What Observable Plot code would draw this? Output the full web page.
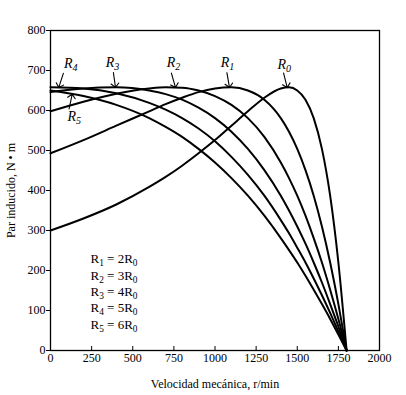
<!DOCTYPE html>
<html><head><meta charset="utf-8">
<script src="https://cdn.jsdelivr.net/npm/d3@7"></script>
<script src="https://cdn.jsdelivr.net/npm/@observablehq/plot@0.6"></script>
<style>body{margin:0;background:#fff;} svg{display:block}</style>
</head><body><div id="chart"></div>
<script>
// Data
const speeds = [0,200,400,600,700,800,900,1000,1100,1200,1300,1400,1450,1500,1550,1600,1650,1700,1750,1800];
const curveNames = ["R₀","R₁","R₂","R₃","R₄","R₅"];
const torqueR0 = [300,330,365,409,434,462,493,526,562,598,632,655,658,650,627,581,504,387,220,0];
const torqueR1 = [493,526,562,598,616,632,646,655,658,650,627,581,547,504,451,387,310,220,116,0];
const torqueR2 = [598,622,642,655,658,657,650,636,614,581,534,470,431,387,337,281,220,152,79,0];
const torqueR3 = [646,655,658,650,641,627,607,581,547,504,451,387,350,310,267,220,170,116,60,0];
const torqueR4 = [658,655,643,619,602,581,555,523,484,439,387,326,293,257,220,180,138,94,48,0];
const torqueR5 = [650,636,614,581,559,534,504,470,431,387,337,281,251,220,187,152,116,79,40,0];
const xTicks = [0,250,500,750,1000,1250,1500,1750,2000];
const yTicks = [0,100,200,300,400,500,600,700,800];
const legendLines = ["R₁ = 2R₀","R₂ = 3R₀","R₃ = 4R₀","R₄ = 5R₀","R₅ = 6R₀"];
const annoCurves = ["R₄","R₃","R₂","R₁","R₀","R₅"];
const annoSpeeds = [50,395,760,1088,1439,132];

const series = [torqueR0,torqueR1,torqueR2,torqueR3,torqueR4,torqueR5];
const table = curveNames.flatMap((name,i)=>speeds.map((s,j)=>({curve:name, speed:s, torque:series[i][j]})));
function torqueAt(name, rpm){
  const arr = series[curveNames.indexOf(name)];
  const j = Math.min(d3.bisectRight(speeds, rpm) - 1, speeds.length - 2);
  const t = (rpm - speeds[j])/(speeds[j+1]-speeds[j]);
  return arr[j] + t*(arr[j+1]-arr[j]);
}
const annos = annoCurves.map((c,i)=>({label:c, speed:annoSpeeds[i], torque:torqueAt(c, annoSpeeds[i])}));
const annoStyle = {
  "R₄":{dx:12,dy:-24,rotate:198},
  "R₃":{dx:-3,dy:-25,rotate:172},
  "R₂":{dx:-2,dy:-25,rotate:164},
  "R₁":{dx:-2,dy:-25,rotate:170},
  "R₀":{dx:-3,dy:-23,rotate:166},
  "R₅":{dx:2,dy:22,rotate:12}
};

const annoMarks = annos.flatMap(a=>{
  const st = annoStyle[a.label];
  return [
    Plot.vector([a],{x:"speed",y:"torque",rotate:st.rotate,length:15,anchor:"end",shape:"arrow",stroke:"black",strokeWidth:1.1,r:4.5}),
    Plot.text([a],{x:"speed",y:"torque",text:"label",dx:st.dx,dy:st.dy,fontStyle:"italic",fontSize:14,fill:"black"})
  ];
});

const chart = Plot.plot({
  width:406, height:395,
  marginLeft:50, marginRight:27, marginTop:30, marginBottom:45,
  style:{fontFamily:"'Liberation Serif', serif", fontSize:"12px", color:"black", background:"white"},
  x:{domain:[0,2000]},
  y:{domain:[0,800]},
  marks:[
    Plot.frame({stroke:"black",strokeWidth:1.3}),
    Plot.axisX({ticks:xTicks, tickSize:4, dy:-4, tickFormat:()=>"", label:null}),
    Plot.axisX({ticks:xTicks, tickSize:0, tickPadding:3, tickFormat:d=>String(d), label:"Velocidad mecánica, r/min", labelAnchor:"center", labelArrow:"none", labelOffset:37}),
    Plot.axisY({ticks:yTicks, tickSize:4, tickPadding:1, tickFormat:d=>String(d), label:"Par inducido, N • m", labelAnchor:"center", labelArrow:"none", labelOffset:44}),
    Plot.line(table,{x:"speed",y:"torque",z:"curve",curve:"monotone-x",stroke:"black",strokeWidth:2}),
    ...annoMarks,
    Plot.text([legendLines.join("\n")],{frameAnchor:"bottom-left",lineAnchor:"bottom",textAnchor:"start",dx:40,dy:-34,lineHeight:1.02,fontSize:13,fill:"black"})
  ]
});

// Render Unicode subscript digits as real smaller, lowered text
const subDigits = "₀₁₂₃₄₅₆₇₈₉";
const NS = "http://www.w3.org/2000/svg";
chart.querySelectorAll("text, tspan").forEach(el=>{
  if (el.children.length) return;
  const s = el.textContent;
  if (![...s].some(ch=>subDigits.includes(ch))) return;
  while (el.firstChild) el.removeChild(el.firstChild);
  let runs = [];
  for (const ch of s) {
    const isSub = subDigits.includes(ch);
    const c = isSub ? String(subDigits.indexOf(ch)) : ch;
    if (runs.length && runs[runs.length-1].sub === isSub) runs[runs.length-1].t += c;
    else runs.push({sub:isSub, t:c});
  }
  let shifted = false;
  for (const r of runs) {
    if (r.sub) {
      const t = document.createElementNS(NS,"tspan");
      t.setAttribute("font-size","72%");
      if (!shifted) t.setAttribute("dy","3");
      t.textContent = r.t;
      el.appendChild(t);
      shifted = true;
    } else if (shifted) {
      const t = document.createElementNS(NS,"tspan");
      t.setAttribute("dy","-3");
      t.textContent = r.t;
      el.appendChild(t);
      shifted = false;
    } else {
      el.appendChild(document.createTextNode(r.t));
    }
  }
});
document.getElementById("chart").appendChild(chart);
</script>
</body></html>
